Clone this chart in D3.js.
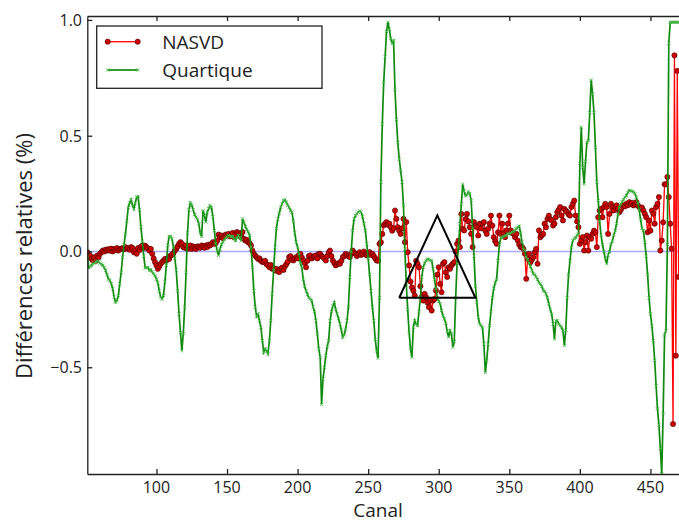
<!DOCTYPE html>
<html><head><meta charset="utf-8">
<script src="https://cdn.jsdelivr.net/npm/d3@7"></script>
<style>body{margin:0;background:#fff;} text{font-family:"Open Sans",sans-serif;fill:#222;}</style>
</head><body><svg id="c" width="679" height="523"></svg>
<script>
const channelStart = 51;
const nasvd = [
-0.003,-0.025,-0.018,-0.032,-0.04,-0.025,-0.04,-0.018,-0.025,-0.01,
-0.003,0.004,0.0,0.008,0.004,0.01,0.004,0.012,0.0,0.01,
0.008,0.015,0.004,0.01,0.012,0.015,0.01,0.019,0.012,0.015,
0.008,0.019,0.015,-0.003,0.004,-0.01,0.015,0.006,0.02,0.025,
0.015,0.025,0.019,0.012,0.004,0.011,-0.01,-0.03,-0.046,-0.06,
-0.075,-0.065,-0.053,-0.046,-0.039,-0.032,-0.039,-0.028,-0.032,-0.018,
-0.014,-0.008,0.004,0.011,0.022,0.033,0.04,0.033,0.019,0.016,
0.026,0.011,0.016,0.026,0.011,0.022,0.016,0.011,0.022,0.019,
0.016,0.026,0.022,0.016,0.026,0.019,0.03,0.026,0.033,0.04,
0.033,0.036,0.047,0.073,0.062,0.069,0.058,0.065,0.073,0.069,
0.076,0.065,0.073,0.08,0.062,0.073,0.084,0.08,0.073,0.062,
0.084,0.055,0.047,0.05,0.04,0.036,0.026,0.004,-0.01,-0.018,
-0.025,-0.032,-0.03,-0.04,-0.045,-0.045,-0.04,-0.055,-0.06,-0.068,
-0.058,-0.075,-0.072,-0.082,-0.075,-0.085,-0.089,-0.075,-0.07,-0.08,
-0.065,-0.055,-0.045,-0.024,-0.02,-0.035,-0.039,-0.03,-0.024,-0.03,
-0.015,-0.01,-0.025,-0.039,-0.05,-0.068,-0.04,-0.02,-0.017,-0.03,
-0.024,-0.02,-0.017,-0.03,-0.01,-0.01,-0.02,-0.024,-0.03,-0.039,
-0.02,-0.005,0.004,-0.02,-0.039,-0.05,-0.06,-0.055,-0.05,-0.053,
-0.04,-0.024,-0.02,-0.01,-0.015,-0.02,-0.024,-0.01,0.004,-0.005,
-0.01,-0.02,-0.01,-0.003,-0.015,-0.01,0.0,-0.01,-0.017,-0.01,
-0.003,-0.015,-0.01,-0.02,-0.03,-0.039,-0.04,0.033,0.04,0.076,
0.113,0.12,0.127,0.115,0.12,0.105,0.09,0.1,0.177,0.141,
0.105,0.09,0.076,0.1,0.141,0.04,0.127,-0.003,-0.06,-0.13,
-0.155,-0.17,-0.19,-0.04,-0.053,-0.068,-0.15,-0.197,-0.212,-0.183,
-0.197,-0.22,-0.24,-0.212,-0.255,-0.212,-0.205,-0.168,-0.1,-0.068,
-0.14,-0.176,-0.053,-0.046,-0.09,-0.11,-0.068,-0.075,-0.06,-0.053,
-0.046,0.0,0.033,0.047,0.019,0.162,0.098,0.091,0.14,0.162,
0.13,0.105,0.076,0.019,0.127,0.11,0.105,0.069,0.12,0.1,
0.12,0.127,0.09,0.076,0.098,0.12,0.155,0.112,0.062,0.045,
0.033,0.083,0.155,0.076,0.12,0.08,0.062,0.091,0.12,0.155,
0.091,0.08,0.076,0.062,0.076,0.047,0.03,0.019,0.019,0.011,
-0.01,-0.118,-0.032,-0.01,-0.046,-0.035,-0.025,-0.003,0.011,-0.053,
0.091,0.062,0.07,0.076,0.12,0.105,0.141,0.155,0.14,0.134,
0.112,0.12,0.148,0.17,0.18,0.192,0.155,0.134,0.184,0.177,
0.17,0.16,0.155,0.192,0.206,0.22,0.155,0.13,0.105,0.033,
0.047,0.062,0.004,0.04,0.069,0.004,0.062,0.055,0.076,0.09,
0.083,0.019,0.148,0.177,0.184,0.148,0.192,0.206,0.192,0.076,
0.162,0.206,0.192,0.177,0.192,0.199,0.185,0.17,0.18,0.192,
0.2,0.195,0.206,0.2,0.213,0.205,0.21,0.199,0.205,0.213,
0.2,0.192,0.185,0.19,0.177,0.163,0.148,0.083,0.134,0.09,
0.177,0.163,0.12,0.192,0.206,0.235,0.004,0.047,0.126,0.29,
0.29,0.322,0.235,0.12,0.012,-0.745,0.847,-0.45,0.78,-0.11
];
const quartique = [
-0.02,-0.07,-0.065,-0.06,-0.053,-0.05,-0.045,-0.04,-0.045,-0.05,
-0.055,-0.06,-0.07,-0.082,-0.1,-0.12,-0.125,-0.14,-0.16,-0.197,
-0.219,-0.212,-0.19,-0.14,-0.09,-0.025,0.03,0.075,0.13,0.19,
0.21,0.224,0.2,0.184,0.21,0.235,0.238,0.18,0.105,0.045,
-0.02,-0.07,-0.072,-0.068,-0.082,-0.078,-0.088,-0.097,-0.105,-0.12,
-0.135,-0.17,-0.197,-0.205,-0.19,-0.13,-0.06,0.026,0.065,0.065,
0.055,0.02,-0.03,-0.08,-0.17,-0.27,-0.35,-0.428,-0.355,-0.24,
-0.09,0.08,0.18,0.21,0.2,0.18,0.16,0.148,0.14,0.12,
0.08,0.065,0.177,0.155,0.127,0.17,0.185,0.198,0.19,0.15,
0.09,0.035,0.004,-0.017,0.01,0.03,0.04,0.05,0.059,0.064,
0.069,0.066,0.064,0.065,0.055,0.047,0.06,0.07,0.06,0.047,
0.141,0.125,0.108,0.095,0.085,0.07,0.019,-0.068,-0.17,-0.24,
-0.28,-0.27,-0.3,-0.327,-0.385,-0.435,-0.42,-0.43,-0.442,-0.385,
-0.298,-0.183,-0.082,0.02,0.1,0.14,0.165,0.19,0.206,0.22,
0.224,0.213,0.2,0.19,0.177,0.17,0.13,0.08,0.04,0.019,
-0.01,-0.05,-0.07,-0.12,-0.15,-0.17,-0.185,-0.2,-0.205,-0.212,
-0.24,-0.26,-0.3,-0.356,-0.42,-0.457,-0.66,-0.55,-0.5,-0.45,
-0.41,-0.385,-0.3,-0.26,-0.235,-0.22,-0.25,-0.27,-0.29,-0.313,
-0.34,-0.37,-0.36,-0.335,-0.3,-0.24,-0.11,0.0,0.09,0.14,
0.155,0.163,0.17,0.175,0.17,0.15,0.12,0.09,0.033,-0.03,
-0.1,-0.17,-0.24,-0.3,-0.38,-0.43,-0.46,-0.2,0.3,0.55,
0.73,0.84,0.95,0.99,0.96,0.92,0.9,0.91,0.7,0.57,
0.47,0.4,0.35,0.3,0.2,0.01,-0.14,-0.25,-0.35,-0.42,
-0.457,-0.327,-0.298,-0.313,-0.32,-0.26,-0.2,-0.11,-0.068,-0.05,
-0.04,-0.032,-0.035,-0.038,-0.04,-0.075,-0.12,-0.16,-0.2,-0.215,
-0.226,-0.255,-0.277,-0.291,-0.31,-0.345,-0.37,-0.342,-0.356,-0.413,
-0.39,-0.2,-0.05,0.02,0.12,0.206,0.29,0.26,0.24,0.245,
0.257,0.25,0.22,0.1,-0.02,-0.15,-0.22,-0.284,-0.313,-0.32,
-0.33,-0.4,-0.522,-0.47,-0.4,-0.32,-0.26,-0.2,-0.16,-0.135,
-0.12,-0.04,0.03,0.06,0.062,0.065,0.069,0.07,0.076,0.076,
0.08,0.083,0.087,0.091,0.098,0.105,0.11,0.08,0.04,0.01,
0.004,-0.025,-0.035,-0.05,-0.065,-0.08,-0.097,-0.1,-0.11,-0.12,
-0.135,-0.14,-0.15,-0.168,-0.172,-0.183,-0.2,-0.226,-0.25,-0.27,
-0.313,-0.378,-0.3,-0.298,-0.313,-0.32,-0.327,-0.342,-0.406,-0.34,
-0.2,-0.1,-0.04,0.019,0.047,0.055,0.06,0.07,0.076,0.38,
0.537,0.364,0.292,0.39,0.472,0.479,0.6,0.74,0.68,0.6,
0.45,0.3,0.22,0.13,0.07,0.03,0.0,-0.03,-0.053,-0.015,
0.0,0.03,0.045,0.07,0.09,0.12,0.16,0.19,0.205,0.215,
0.225,0.235,0.242,0.255,0.264,0.262,0.26,0.257,0.25,0.235,
0.21,0.18,0.14,0.1,0.09,0.04,-0.02,-0.1,-0.2,-0.27,
-0.32,-0.385,-0.47,-0.58,-0.68,-0.75,-0.85,-0.96,-0.7,-0.36,
-0.342,0.03,0.9,0.99,0.99,0.99,0.99,0.99,0.99,0.99
];
const seriesNames = ["NASVD", "Quartique"];
const xTicks = [100, 150, 200, 250, 300, 350, 400, 450];
const yTicks = [-0.5, 0.0, 0.5, 1.0];
const triangleX = [272, 299, 326, 272];
const triangleY = [-0.2, 0.156, -0.2, -0.2];
const xLabel = "Canal";
const yLabel = "Différences relatives (%)";

const W = 679, H = 523;
const L = 87.3, T = 16, B = 474;
const svg = d3.select("#c");
const x = d3.scaleLinear().domain([51, 480]).range([L, L + 429 * 1.4114]);
const y = d3.scaleLinear().domain([-0.961, 1.017]).range([B, T]);

svg.append("defs").append("clipPath").attr("id", "clip")
  .append("rect").attr("x", L).attr("y", T).attr("width", W - L + 20).attr("height", B - T);

const plot = svg.append("g").attr("clip-path", "url(#clip)");

plot.append("line").attr("x1", x.range()[0]).attr("x2", x.range()[1])
  .attr("y1", y(0)).attr("y2", y(0)).attr("stroke", "#a8a8ff").attr("stroke-width", 1.3);

const toPts = arr => arr.map((v, i) => [channelStart + i, v]);
const line = d3.line().x(d => x(d[0])).y(d => y(d[1]));

const redPts = toPts(nasvd);
plot.append("path").datum(redPts).attr("d", line).attr("fill", "none")
  .attr("stroke", "#ff0000").attr("stroke-width", 1.3);
plot.append("g").selectAll("circle").data(redPts).join("circle")
  .attr("cx", d => x(d[0])).attr("cy", d => y(d[1])).attr("r", 2.6)
  .attr("fill", "#cc0000").attr("stroke", "#4a0000").attr("stroke-width", 0.6);

const greenPts = toPts(quartique);
plot.append("path").datum(greenPts).attr("d", line).attr("fill", "none")
  .attr("stroke", "#0f8a0f").attr("stroke-width", 1.7);
const xm = "M-1.6,-1.6L1.6,1.6M-1.6,1.6L1.6,-1.6";
plot.append("g").selectAll("path").data(greenPts).join("path")
  .attr("transform", d => `translate(${x(d[0])},${y(d[1])})`).attr("d", xm)
  .attr("stroke", "#45b845").attr("stroke-width", 0.9).attr("fill", "none");

plot.append("path").datum(triangleX.map((v, i) => [v, triangleY[i]]))
  .attr("d", line).attr("fill", "none").attr("stroke", "#000").attr("stroke-width", 2);

const axStyle = g => { g.selectAll("path,line").attr("stroke", "#222").attr("stroke-width", 1.3); g.selectAll("text").remove(); };
svg.append("g").attr("transform", `translate(0,${B})`)
  .call(d3.axisBottom(x).tickValues(xTicks).tickSize(-5).tickSizeOuter(0)).call(axStyle);
svg.append("g").attr("transform", `translate(0,${T})`)
  .call(d3.axisTop(x).tickValues(xTicks).tickSize(-5).tickSizeOuter(0)).call(axStyle);
svg.append("g").attr("transform", `translate(${L},0)`)
  .call(d3.axisLeft(y).tickValues(yTicks).tickSize(-5).tickSizeOuter(0)).call(axStyle);

svg.append("g").selectAll("text").data(xTicks).join("text")
  .attr("x", d => x(d)).attr("y", 493).attr("text-anchor", "middle")
  .attr("font-size", 16).text(d => d);
const yf = d3.format(".1f");
svg.append("g").selectAll("text").data(yTicks).join("text")
  .attr("x", 82).attr("y", d => y(d) + 6).attr("text-anchor", "end")
  .attr("font-size", 16).text(d => yf(d));

svg.append("text").attr("x", 378).attr("y", 517).attr("text-anchor", "middle")
  .attr("font-size", 19).text(xLabel);
svg.append("text").attr("transform", "translate(31.5,256) rotate(-90)")
  .attr("text-anchor", "middle").attr("font-size", 22).text(yLabel);

const lg = svg.append("g");
lg.append("rect").attr("x", 96.7).attr("y", 26).attr("width", 225.3).attr("height", 62.3)
  .attr("fill", "#fff").attr("stroke", "#222").attr("stroke-width", 1.3);
const ly = [41.7, 70];
lg.append("line").attr("x1", 107.7).attr("x2", 137.7).attr("y1", ly[0]).attr("y2", ly[0])
  .attr("stroke", "#ff0000").attr("stroke-width", 1.3);
[107.7, 137.7].forEach(px => lg.append("circle").attr("cx", px).attr("cy", ly[0]).attr("r", 2.6)
  .attr("fill", "#cc0000").attr("stroke", "#4a0000").attr("stroke-width", 0.6));
lg.append("line").attr("x1", 107.7).attr("x2", 137.7).attr("y1", ly[1]).attr("y2", ly[1])
  .attr("stroke", "#0f8a0f").attr("stroke-width", 1.7);
[107.7, 137.7].forEach(px => lg.append("path").attr("transform", `translate(${px},${ly[1]})`)
  .attr("d", xm).attr("stroke", "#45b845").attr("stroke-width", 0.9));
lg.selectAll("text.lt").data(seriesNames).join("text").attr("class", "lt")
  .attr("x", 162.3).attr("y", (d, i) => ly[i] + 7).attr("font-size", 19).text(d => d);
</script></body></html>
